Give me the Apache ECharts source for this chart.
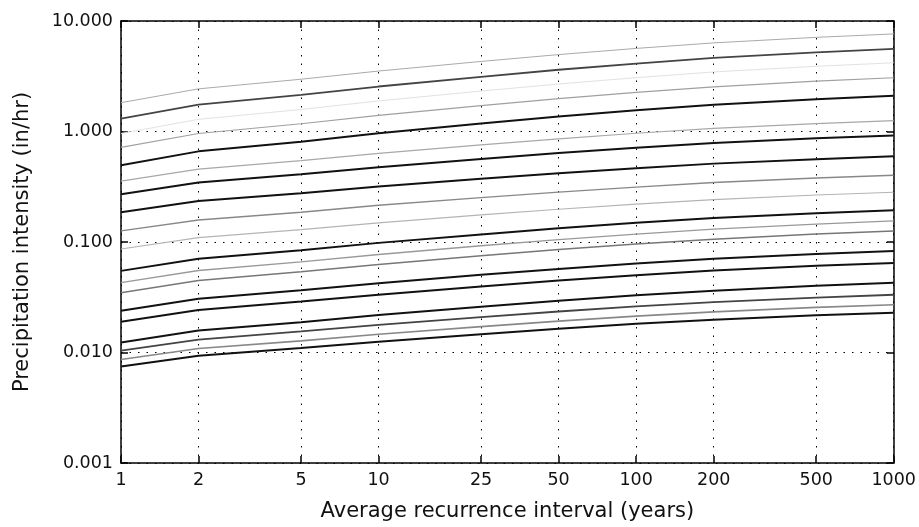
<!DOCTYPE html>
<html>
<head>
<meta charset="utf-8">
<script src="https://cdn.jsdelivr.net/npm/echarts@6/dist/echarts.min.js"></script>
<style>
  html, body { margin: 0; padding: 0; background: #fff; }
  #chart { width: 919px; height: 527px; }
</style>
</head>
<body>
<div id="chart"></div>
<script>
// recurrence intervals (x) and tick labels
var years = [1, 2, 5, 10, 25, 50, 100, 200, 500, 1000];
var yTicks = [0.001, 0.01, 0.1, 1, 10];

// intensity curves, top to bottom (in/hr)
var c01 = [1.824, 2.432, 2.972, 3.524, 4.305, 4.966, 5.649, 6.339, 7.112, 7.638];
var c02 = [1.309, 1.750, 2.147, 2.553, 3.126, 3.622, 4.121, 4.634, 5.200, 5.598];
var c03 = [0.959, 1.288, 1.582, 1.891, 2.323, 2.690, 3.070, 3.459, 3.890, 4.188];
var c04 = [0.718, 0.959, 1.175, 1.400, 1.714, 1.983, 2.259, 2.538, 2.851, 3.064];
var c05 = [0.494, 0.661, 0.809, 0.964, 1.180, 1.365, 1.556, 1.746, 1.963, 2.110];
var c06 = [0.355, 0.456, 0.545, 0.635, 0.757, 0.859, 0.964, 1.067, 1.180, 1.256];
var c07 = [0.271, 0.346, 0.411, 0.475, 0.564, 0.638, 0.711, 0.785, 0.867, 0.920];
var c08 = [0.186, 0.235, 0.276, 0.318, 0.374, 0.420, 0.466, 0.512, 0.562, 0.596];
var c09 = [0.126, 0.158, 0.186, 0.215, 0.252, 0.283, 0.314, 0.345, 0.379, 0.402];
var c10 = [0.0865, 0.1096, 0.1294, 0.149, 0.176, 0.198, 0.220, 0.242, 0.266, 0.282];
var c11 = [0.0548, 0.0706, 0.0842, 0.0982, 0.117, 0.133, 0.149, 0.165, 0.182, 0.194];
var c12 = [0.0428, 0.0552, 0.0662, 0.0771, 0.0925, 0.105, 0.118, 0.131, 0.145, 0.155];
var c13 = [0.0347, 0.0449, 0.0538, 0.0627, 0.0751, 0.0855, 0.0959, 0.106, 0.118, 0.126];
var c14 = [0.0239, 0.0306, 0.0365, 0.0424, 0.0505, 0.0571, 0.0638, 0.0706, 0.0780, 0.0830];
var c15 = [0.0190, 0.0243, 0.0289, 0.0333, 0.0396, 0.0448, 0.0500, 0.0551, 0.0610, 0.0647];
var c16 = [0.0123, 0.0158, 0.0188, 0.0218, 0.0259, 0.0294, 0.0329, 0.0363, 0.0402, 0.0428];
var c17 = [0.0104, 0.0131, 0.0155, 0.0178, 0.0209, 0.0235, 0.0261, 0.0286, 0.0314, 0.0333];
var c18 = [0.00865, 0.01086, 0.01274, 0.01462, 0.01714, 0.01923, 0.02133, 0.02333, 0.02559, 0.02704];
var c19 = [0.00748, 0.00936, 0.01096, 0.01250, 0.01466, 0.01637, 0.01816, 0.01982, 0.02168, 0.02291];

var curves = [c01, c02, c03, c04, c05, c06, c07, c08, c09, c10, c11, c12, c13, c14, c15, c16, c17, c18, c19];
// line look per curve (colour, width)
var looks = [
  ['#aaaaaa', 1], ['#444444', 1.8], ['#e2e2e2', 1], ['#a0a0a0', 1.2], ['#111111', 2],
  ['#a8a8a8', 1.2], ['#111111', 2], ['#111111', 2], ['#888888', 1.4], ['#b4b4b4', 1.1],
  ['#111111', 2], ['#999999', 1.3], ['#777777', 1.5], ['#111111', 2], ['#111111', 2],
  ['#111111', 2], ['#444444', 1.8], ['#888888', 1.6], ['#111111', 2]
];

var font = 'DejaVu Sans';
var chart = echarts.init(document.getElementById('chart'), null, { renderer: 'canvas' });

var series = curves.map(function (c, i) {
  return {
    type: 'line',
    xAxisIndex: 0,
    yAxisIndex: 0,
    data: years.map(function (t, k) { return [t, c[k]]; }),
    showSymbol: false,
    silent: true,
    lineStyle: { color: looks[i][0], width: looks[i][1] },
    z: looks[i][1] >= 1.8 ? 4 : 3
  };
});

var dots = { color: '#000', width: 1, type: [1.5, 7] };

var option = {
  animation: false,
  backgroundColor: '#fff',
  grid: { left: 121, right: 25, top: 21, bottom: 62, containLabel: false },
  xAxis: [{
    type: 'log', logBase: 10, min: 1, max: 1000,
    name: 'Average recurrence interval (years)',
    nameLocation: 'middle', nameGap: 38,
    nameTextStyle: { fontFamily: font, fontSize: 21, color: '#111' },
    axisLine: { onZero: false, lineStyle: { color: '#000', width: 1.5 } },
    axisTick: { inside: true, length: 7, customValues: years, lineStyle: { color: '#000', width: 1.5 } },
    minorTick: { show: false },
    axisLabel: { customValues: years, margin: 8, fontFamily: font, fontSize: 17.5, color: '#111',
      formatter: function (v) { return String(Math.round(v)); } },
    splitLine: { show: true, lineStyle: dots }
  }, {
    type: 'log', logBase: 10, min: 1, max: 1000, position: 'top',
    axisLine: { onZero: false, lineStyle: { color: '#000', width: 1.5 } },
    axisTick: { inside: true, length: 7, customValues: years, lineStyle: { color: '#000', width: 1.5 } },
    axisLabel: { show: false },
    splitLine: { show: false }
  }],
  yAxis: [{
    type: 'log', logBase: 10, min: 0.001, max: 10,
    name: 'Precipitation intensity (in/hr)',
    nameLocation: 'middle', nameGap: 88,
    nameTextStyle: { fontFamily: font, fontSize: 21, color: '#111' },
    axisLine: { onZero: false, lineStyle: { color: '#000', width: 1.5 } },
    axisTick: { inside: true, length: 7, lineStyle: { color: '#000', width: 1.5 } },
    axisLabel: { margin: 8, fontFamily: font, fontSize: 17.5, color: '#111',
      formatter: function (v) { return Number(v).toFixed(3); } },
    splitLine: { show: true, lineStyle: dots }
  }, {
    type: 'log', logBase: 10, min: 0.001, max: 10, position: 'right',
    axisLine: { onZero: false, lineStyle: { color: '#000', width: 1.5 } },
    axisTick: { inside: true, length: 7, lineStyle: { color: '#000', width: 1.5 } },
    axisLabel: { show: false },
    splitLine: { show: false }
  }],
  series: series
};

chart.setOption(option);
</script>
</body>
</html>
